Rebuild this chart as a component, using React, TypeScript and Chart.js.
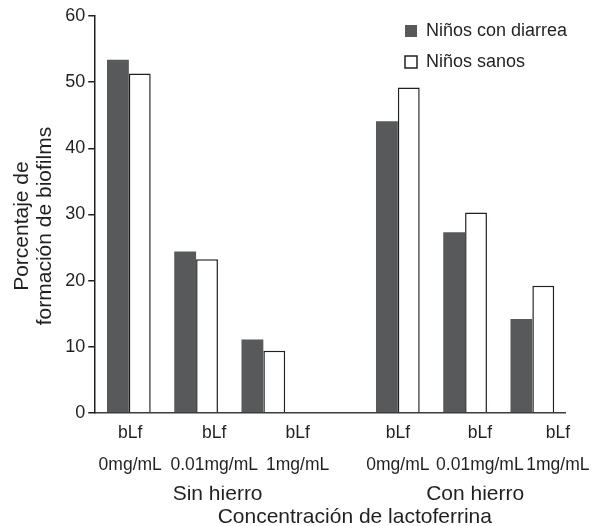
import React, { useEffect, useRef } from "react";
import { Chart, registerables } from "chart.js";

Chart.register(...registerables);

const SERIES_NAMES = ["Niños con diarrea", "Niños sanos"];
const CATEGORIES = [
  "Sin hierro bLf 0mg/mL",
  "Sin hierro bLf 0.01mg/mL",
  "Sin hierro bLf 1mg/mL",
  "",
  "Con hierro bLf 0mg/mL",
  "Con hierro bLf 0.01mg/mL",
  "Con hierro bLf 1mg/mL",
];
const DIARRHEA = [53.4, 24.4, 11.1, null, 44.1, 27.3, 14.2];
const HEALTHY = [51.3, 23.2, 9.4, null, 49.2, 30.3, 19.2];

const TICK_PREFIX = "bLf";
const CONCENTRATIONS = ["0mg/mL", "0.01mg/mL", "1mg/mL", "0mg/mL", "0.01mg/mL", "1mg/mL"];
const CONCENTRATION_POSITIONS = [0.02, 1.27, 2.51, 4.0, 5.22, 6.38];
const GROUP_LABELS = ["Sin hierro", "Con hierro"];
const GROUP_POSITIONS = [1.32, 5.15];
const X_TITLE = "Concentración de lactoferrina";
const X_TITLE_POSITION = 3.36;
const Y_TITLE = ["Porcentaje de    ", "formación de biofilms    "];
const Y_MIN = 0;
const Y_MAX = 60;
const Y_STEP = 10;

const FONT = "'Liberation Sans', Arial, Helvetica, sans-serif";
const TEXT = "#231f20";
const DARK = "#58595b";
const AXIS = "#231f20";

export default function App() {
  const ref = useRef<HTMLCanvasElement | null>(null);

  useEffect(() => {
    if (!ref.current) return;
    const concLabels = CONCENTRATIONS.map((c) => [TICK_PREFIX, c]);
    const bottomTicks = [...GROUP_POSITIONS, X_TITLE_POSITION];
    const bottomLabels: (string | string[])[] = [...GROUP_LABELS, ["", X_TITLE]];

    const legendPlacer = {
      id: "legendPlacer",
      afterLayout(chart: any) {
        const lg = chart.legend;
        if (!lg) return;
        const w = lg.width;
        const h = lg.height;
        lg.left = 392;
        lg.top = 9;
        lg.right = lg.left + w;
        lg.bottom = lg.top + h;
      },
    };

    const chart = new Chart(ref.current, {
      type: "bar",
      data: {
        labels: CATEGORIES,
        datasets: [
          {
            label: SERIES_NAMES[0],
            data: DIARRHEA,
            backgroundColor: DARK,
            borderColor: DARK,
            borderWidth: 0,
            xAxisID: "x",
          },
          {
            label: SERIES_NAMES[1],
            data: HEALTHY,
            backgroundColor: "#ffffff",
            borderColor: AXIS,
            borderWidth: 1.5,
            xAxisID: "x",
          },
        ],
      },
      options: {
        animation: false,
        responsive: true,
        maintainAspectRatio: false,
        events: [],
        datasets: {
          bar: { categoryPercentage: 0.65, barPercentage: 1.0 },
        },
        layout: { padding: { top: 16, right: 23, bottom: 0, left: 11 } },
        plugins: {
          tooltip: { enabled: false },
          legend: {
            position: "chartArea",
            align: "start",
            labels: {
              boxWidth: 12,
              boxHeight: 12,
              padding: 13,
              color: TEXT,
              font: { family: FONT, size: 18 },
            },
          },
        },
        scales: {
          x: {
            type: "category",
            offset: true,
            weight: 0,
            grid: { display: false, drawTicks: false },
            border: { display: true, color: "#3c3c3c", width: 1.5 },
            ticks: { display: false },
          },
          xConc: {
            type: "linear",
            position: "bottom",
            weight: 1,
            min: -0.5,
            max: 6.5,
            offset: false,
            grid: { display: false, drawTicks: false, offset: false },
            border: { display: false },
            afterBuildTicks: (axis: any) => {
              axis.ticks = CONCENTRATION_POSITIONS.map((v) => ({ value: v }));
            },
            ticks: {
              autoSkip: false,
              maxRotation: 0,
              padding: 5,
              color: TEXT,
              font: { family: FONT, size: 17.5, lineHeight: 1.8 },
              callback: (_v: any, i: number) => concLabels[i],
            },
          },
          xGroup: {
            type: "linear",
            position: "bottom",
            weight: 2,
            min: -0.5,
            max: 6.5,
            offset: false,
            grid: { display: false, drawTicks: false, offset: false },
            border: { display: false },
            afterBuildTicks: (axis: any) => {
              axis.ticks = bottomTicks.map((v) => ({ value: v }));
            },
            ticks: {
              autoSkip: false,
              maxRotation: 0,
              padding: -3,
              color: TEXT,
              font: { family: FONT, size: 21, lineHeight: 1.1 },
              callback: (_v: any, i: number) => bottomLabels[i],
            },
          },
          y: {
            min: Y_MIN,
            max: Y_MAX,
            ticks: {
              stepSize: Y_STEP,
              padding: 3,
              color: TEXT,
              font: { family: FONT, size: 18 },
            },
            grid: {
              drawOnChartArea: false,
              drawTicks: true,
              tickLength: 7,
              color: AXIS,
              lineWidth: 1.5,
            },
            border: { color: AXIS, width: 1.5 },
            title: {
              display: true,
              text: Y_TITLE,
              color: TEXT,
              font: { family: FONT, size: 21, lineHeight: 1.1 },
              padding: { top: 0, bottom: 5 },
            },
          },
        },
      },
      plugins: [legendPlacer],
    });
    return () => chart.destroy();
  }, []);

  return (
    <div style={{ position: "fixed", left: 0, top: 0, width: 595, height: 526 }}>
      <canvas ref={ref} />
    </div>
  );
}
